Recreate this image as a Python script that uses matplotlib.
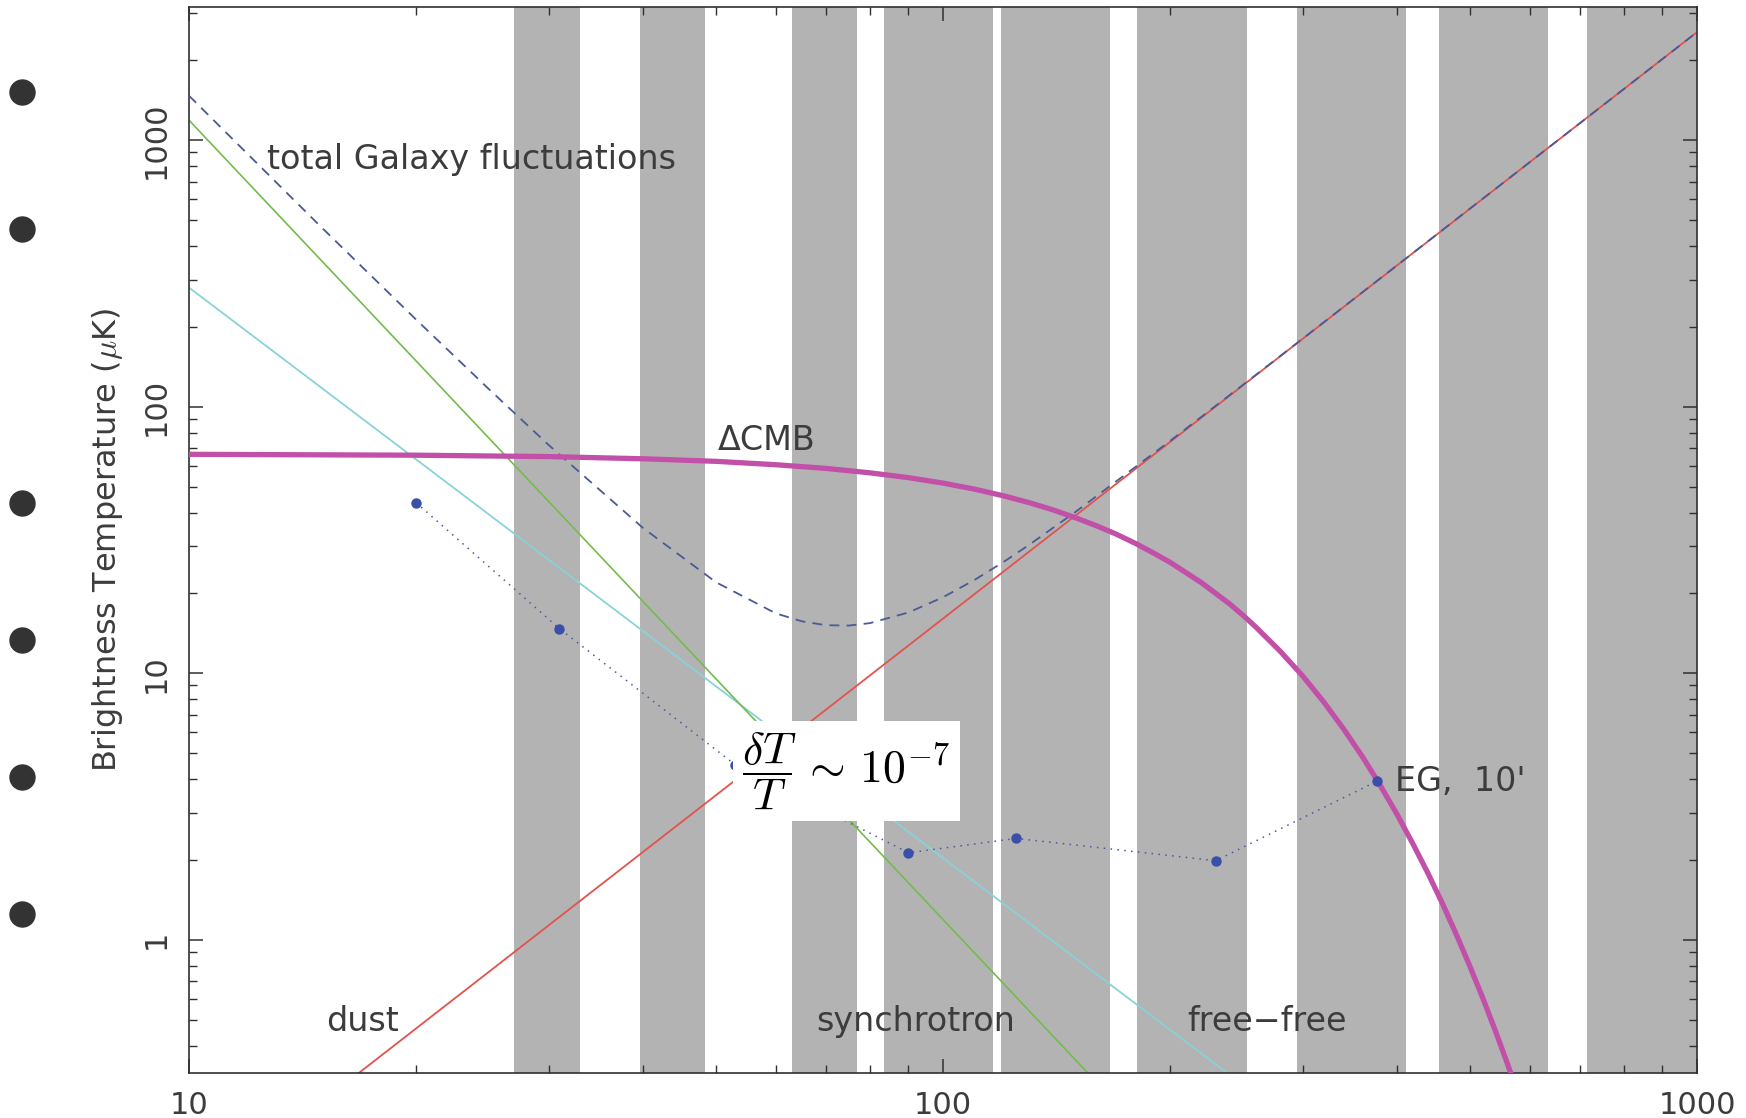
import numpy as np
import matplotlib
matplotlib.use("Agg")
import matplotlib.pyplot as plt
from matplotlib.lines import Line2D
from matplotlib.ticker import NullFormatter

# ---------------------------------------------------------
# Datos
# ---------------------------------------------------------
# bandas de frecuencia (GHz)
band_lo = [27, 39.6, 63, 83.5, 119.5, 181, 295, 455, 715]
band_hi = [33, 48.4, 77, 116.5, 166.5, 253, 411, 635, 1000]

# componentes galacticos (rectas en log-log)
dust_nu = [10, 1000]
dust_T = [0.101, 2545]
synch_nu = [10, 200]
synch_T = [1189, 0.149]
ff_nu = [10, 300]
ff_T = [280, 0.193]

# total Galaxy fluctuations (curva discontinua)
total_nu = [10, 15, 20, 25, 30, 40, 50, 60, 65, 70, 75, 80, 90, 100, 110,
            120, 130, 150, 200, 250, 300, 400, 500, 700, 1000]
total_T = [1469, 470, 212.6, 116.3, 71.8, 35.1, 21.95, 16.78, 15.66, 15.14,
           15.10, 15.42, 16.91, 19.28, 22.36, 26.04, 30.29, 40.38, 74.4,
           120.9, 180.2, 339.1, 554.2, 1161, 2545]

# Delta CMB
cmb_nu = [10, 20, 30, 40, 50, 60, 70, 80, 90, 100, 110, 120, 130, 140, 150,
          160, 170, 180, 190, 200, 220, 240, 250, 260, 280, 300, 320, 340,
          360, 380, 400, 420, 440, 460, 480, 500, 520, 540, 560, 580, 600]
cmb_T = [66.3, 65.8, 65.0, 63.8, 62.4, 60.6, 58.7, 56.5, 54.2, 51.7, 49.1,
         46.4, 43.7, 41.0, 38.3, 35.7, 33.2, 30.7, 28.3, 26.1, 21.9, 18.2,
         16.5, 14.9, 12.1, 9.76, 7.79, 6.17, 4.86, 3.80, 2.96, 2.29, 1.77,
         1.36, 1.04, 0.793, 0.603, 0.457, 0.345, 0.261, 0.196]

# fuentes extragalacticas (EG, 10')
eg_nu = [20, 31, 53, 90, 125, 230, 376]
eg_T = [43.7, 14.7, 4.54, 2.12, 2.40, 1.98, 3.93]

yticks = [1, 10, 100, 1000]
ytick_labels = ["1", "10", "100", "1000"]
xticks = [10, 100, 1000]
xtick_labels = ["10", "100", "1000"]

# ---------------------------------------------------------
# Figura
# ---------------------------------------------------------
plt.rcParams["mathtext.fontset"] = "cm"
plt.rcParams["font.family"] = ["DejaVu Sans"]

W, H = 1746, 1118
fig = plt.figure(figsize=(W / 100, H / 100), dpi=100)
ax = fig.add_axes([189 / W, 1 - 1073 / H, (1697 - 189) / W, (1073 - 7) / H])

txt_col = "#3c3c3c"
gray = "#b3b3b3"

for lo, hi in zip(band_lo, band_hi):
    ax.axvspan(lo, hi, color=gray, lw=0, zorder=0)

ax.plot(ff_nu, ff_T, color="#88d2da", lw=1.3, zorder=2)
ax.plot(synch_nu, synch_T, color="#74bb4e", lw=1.2, zorder=2)
ax.plot(dust_nu, dust_T, color="#e2524f", lw=1.3, zorder=2)
ax.plot(total_nu, total_T, color="#4b5a96", lw=1.3, dashes=(5.5, 4), zorder=3)
ax.plot(cmb_nu, cmb_T, color="#c24fa8", lw=3.8, zorder=4,
        solid_joinstyle="round")
ax.plot(eg_nu, eg_T, color="#4a5a9a", lw=1.1, linestyle=(0, (1, 3.5)), zorder=5)
ax.plot(eg_nu, eg_T, "o", color="#3a4fa8", ms=6.5, zorder=5)

ax.set_xscale("log")
ax.set_yscale("log")
ax.set_xlim(10, 1000)
ax.set_ylim(10 ** -0.5, 10 ** 3.5)

ax.set_xticks(xticks)
ax.set_xticklabels(xtick_labels)
ax.set_yticks(yticks)
ax.set_yticklabels(ytick_labels)
ax.xaxis.set_minor_formatter(NullFormatter())
ax.yaxis.set_minor_formatter(NullFormatter())

ax.tick_params(which="both", direction="in", top=True, right=True,
               colors="#303030", labelcolor=txt_col, labelsize=22)
ax.tick_params(which="major", length=10, width=1.1, pad=13)
ax.tick_params(which="minor", length=5.5, width=1.0)
ax.tick_params(axis="y", labelrotation=90)
for lbl in ax.get_yticklabels():
    lbl.set_va("center")

for sp in ax.spines.values():
    sp.set_color("#303030")
    sp.set_linewidth(1.2)

ax.set_ylabel("Brightness Temperature ($\\mu$K)", fontsize=23, color=txt_col)
ax.yaxis.label.set_va("center")
ax.yaxis.set_label_coords((108 - 189) / 1508, 0.5)

# etiquetas
lab = dict(fontsize=24, color=txt_col, va="center", ha="left", zorder=6)
ax.text(12.7, 849, "total Galaxy fluctuations", **lab)
ax.text(50.3, 74.9, "\u0394CMB", **lab)
ax.text(15.2, 0.495, "dust", **lab)
ax.text(67.9, 0.495, "synchrotron", **lab)
ax.text(211, 0.495, "free\u2212free", **lab)
ax.text(398, 3.93, "EG,  10'", **lab)

ax.text(74.5, 4.3, r"$\dfrac{\delta T}{T}\,\sim\,10^{-7}$", fontsize=33,
        ha="center", va="center", color="black", zorder=7,
        bbox=dict(facecolor="white", edgecolor="none", pad=7))

# vinetas de la diapositiva
for yb in [92, 229, 503, 640, 777, 914]:
    fig.add_artist(Line2D([22 / W], [1 - yb / H], marker="o", ms=18,
                          color="#333333", transform=fig.transFigure))

fig.savefig("out.png", dpi=100)
